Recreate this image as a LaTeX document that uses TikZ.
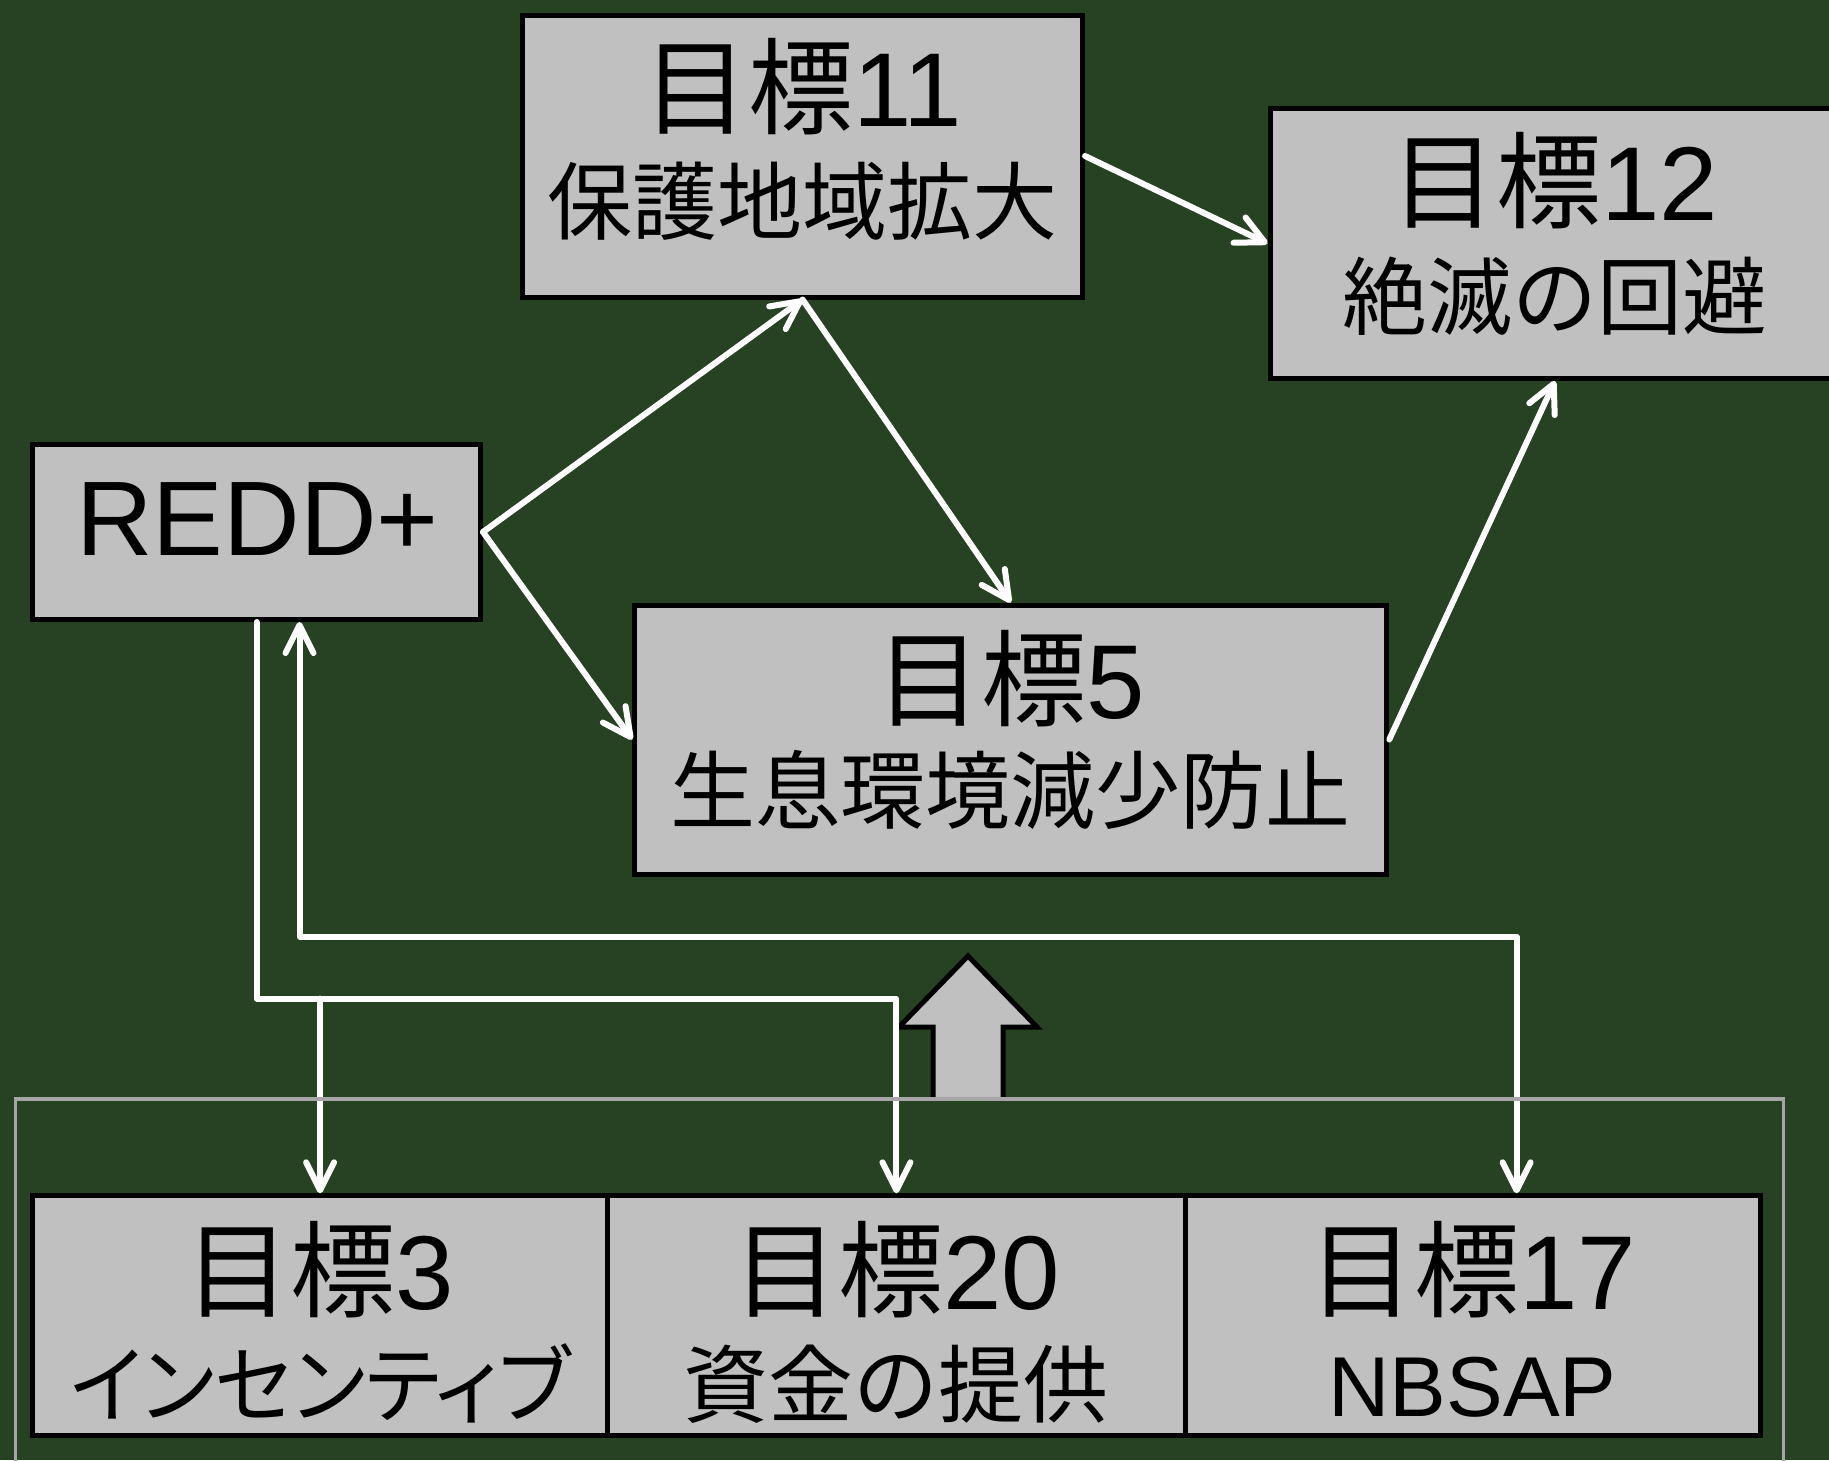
\documentclass[tikz,border=0pt]{standalone}
\usepackage{fontspec}
\usepackage{graphicx}
\setmainfont{Liberation Sans}
\newfontfamily\jp{Noto Sans CJK JP}
\newfontfamily\jpp{Noto Sans CJK JP}[RawFeature=+palt]
\usetikzlibrary{arrows.meta,calc}
\definecolor{bg}{RGB}{39,66,34}
\definecolor{boxgray}{RGB}{192,192,192}
\definecolor{framegray}{RGB}{166,166,166}
\tikzset{
  goalbox/.style={draw=black, line width=5pt, fill=boxgray, inner sep=0pt, anchor=center},
  titletext/.style={anchor=base, inner sep=0pt, font=\fontsize{105}{105}\selectfont},
  subtext/.style={anchor=base, inner sep=0pt, font=\fontsize{85}{85}\selectfont},
  wire/.style={draw=white, line width=6pt, line join=round, line cap=round},
  conn/.style={wire, -{Straight Barb[length=28pt,width=28pt,round]}},
  biconn/.style={wire, {Straight Barb[length=28pt,width=28pt,round]}-{Straight Barb[length=28pt,width=28pt,round]}},
}
\begin{document}
\begin{tikzpicture}[x=1pt,y=-1pt]
\fill[bg] (0,0) rectangle (1829,1460);
\useasboundingbox (0,0) rectangle (1829,1460);

% boxes
\node[goalbox, minimum width=560pt, minimum height=282pt] (g11) at (802.5,156) {};
\node[goalbox, minimum width=570pt, minimum height=270pt] (g12) at (1555,243.5) {};
\node[goalbox, minimum width=448pt, minimum height=175pt] (redd) at (256.5,532) {};
\node[goalbox, minimum width=752pt, minimum height=269pt] (g5) at (1010.8,739.5) {};
\node[goalbox, minimum width=575.2pt, minimum height=240pt] (g3) at (320.1,1315.8) {};
\node[goalbox, minimum width=577.5pt, minimum height=240pt] (g20) at (896.45,1315.8) {};
\node[goalbox, minimum width=574.8pt, minimum height=240pt] (g17) at (1472.6,1315.8) {};

% texts
\node[titletext] (t11) at ($(g11.north)+(0,114)$) {{\jp 目標}11};
\node[subtext] (s11) at ($(g11.north)+(0,221)$) {{\jp 保護地域拡大}};
\node[titletext] (t12) at ($(g12.north)+(0,114)$) {{\jp 目標}12};
\node[subtext] (s12) at ($(g12.north)+(0,222)$) {{\jp 絶滅の回避}};
\node[titletext, font=\fontsize{106}{106}\selectfont] (tr) at ($(redd.north)+(1,113.5)$) {REDD+};
\node[titletext] (t5) at ($(g5.north)+(0,116)$) {{\jp 目標}5};
\node[subtext] (s5) at ($(g5.north)+(0,220)$) {{\jp 生息環境減少防止}};
\node[titletext] (t3) at ($(g3.north)+(0,116)$) {{\jp 目標}3};
\node[subtext] (s3) at ($(g3.north)+(0,223)$) {\scalebox{0.963}[1]{\jpp インセンティブ}};
\node[titletext] (t20) at ($(g20.north)+(0,116)$) {{\jp 目標}20};
\node[subtext] (s20) at ($(g20.north)+(0,223)$) {{\jp 資金の提供}};
\node[titletext] (t17) at ($(g17.north)+(0,116)$) {{\jp 目標}17};
\node[subtext] (s17) at ($(g17.north)+(0,223)$) {NBSAP};

% block arrow
\fill[boxgray] (933,1099) -- (933,1027) -- (899,1027) -- (968,956) -- (1037,1027) -- (1003,1027) -- (1003,1099) -- cycle;
\draw[black, line width=5pt, line join=miter] (933,1099) -- (933,1027) -- (899,1027) -- (968,956) -- (1037,1027) -- (1003,1027) -- (1003,1099);

% diagonal connectors
\draw[conn] (redd.east) -- (g11.south);
\draw[conn] (redd.east) -- (g5.west);
\draw[conn] (g11.south) -- (g5.north);
\draw[conn] (g11.east) -- (g12.west);
\draw[conn] (g5.east) -- (g12.south);

% lower bus connectors
\coordinate (busA) at (0,998.5);
\coordinate (busB) at (0,936.7);
\draw[conn] (redd.south) -- (redd.south |- busA) -- (g20.north |- busA) -- (g20.north);
\draw[conn] (g3.north |- busA) -- (g3.north);
\coordinate (bR) at ($(redd.south)+(43,0)$);
\coordinate (b17) at ($(g17.north)+(44,0)$);
\draw[biconn] (bR) -- (bR |- busB) -- (b17 |- busB) -- (b17);

% outer frame
\draw[framegray, line width=3.5pt] (15.5,1500) -- (15.5,1099) -- (1783.5,1099) -- (1783.5,1500);
\end{tikzpicture}
\end{document}
